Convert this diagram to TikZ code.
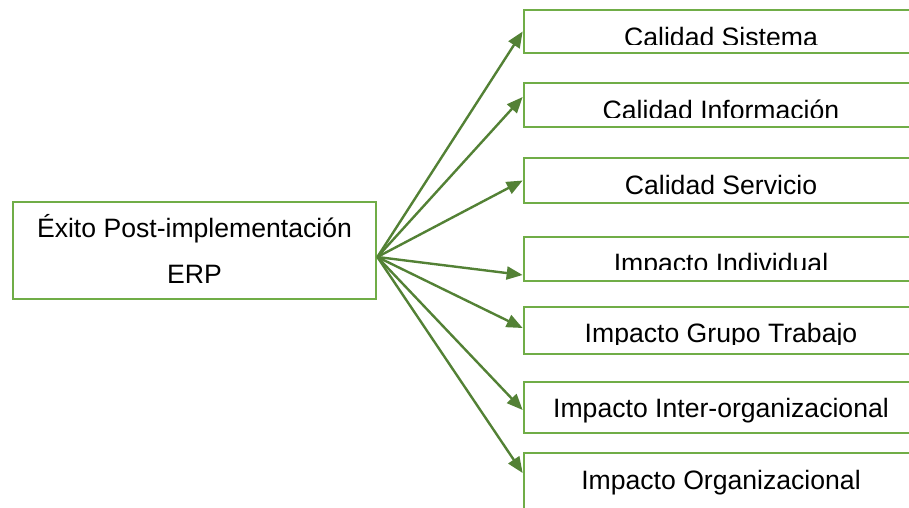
\documentclass[tikz,border=0pt]{standalone}
\usepackage{fontspec}
\setmainfont{Liberation Sans}
\usetikzlibrary{arrows.meta}
\definecolor{boxgreen}{HTML}{70AD47}
\definecolor{arrowgreen}{HTML}{538135}
\tikzset{
  box/.style={draw=boxgreen, line width=2.7pt, inner sep=0pt, fill=white},
  lbl/.style={font=\fontsize{26.6}{32}\selectfont, anchor=base, inner sep=0pt, text=black},
  arr/.style={draw=arrowgreen, line width=2.4pt, -{Triangle[length=16pt,width=13pt]}}
}
\begin{document}
\begin{tikzpicture}[x=1pt,y=-1pt]
  \useasboundingbox (0,0) rectangle (909,507);
  \clip (0,0) rectangle (909,507);

  % source box
  \node[box, minimum width=363pt, minimum height=97pt] (src) at (194.5,250.5) {};
  \node[lbl] (srcA) at (194.5,237) {Éxito Post-implementación};
  \node[lbl] (srcB) at (194.5,283) {ERP};

  % target boxes
  \node[box, minimum width=394pt, minimum height=43pt] (b1) at (721,31.5) {};
  \node[box, minimum width=394pt, minimum height=44pt] (b2) at (721,105) {};
  \node[box, minimum width=394pt, minimum height=45pt] (b3) at (721,180.5) {};
  \node[box, minimum width=394pt, minimum height=44pt] (b4) at (721,259) {};
  \node[box, minimum width=394pt, minimum height=47pt] (b5) at (721,330.5) {};
  \node[box, minimum width=394pt, minimum height=51pt] (b6) at (721,407.5) {};
  \node[box, minimum width=394pt, minimum height=77pt] (b7) at (721,491.5) {};

  % labels (some are cut off by their frame)
  \begin{scope}
    \clip (524,0) rectangle (918,44);
    \node[lbl] (t1) at (721,46) {Calidad Sistema};
  \end{scope}
  \begin{scope}
    \clip (524,83) rectangle (918,117);
    \node[lbl] (t2) at (721,119) {Calidad Información};
  \end{scope}
  \node[lbl] (t3) at (721,194) {Calidad Servicio};
  \begin{scope}
    \clip (524,237) rectangle (918,269);
    \node[lbl] (t4) at (721,272) {Impacto Individual};
  \end{scope}
  \begin{scope}
    \clip (524,307) rectangle (918,344.5);
    \node[lbl] (t5) at (721,342) {Impacto Grupo Trabajo};
  \end{scope}
  \node[lbl] (t6) at (721,417) {Impacto Inter-organizacional};
  \node[lbl] (t7) at (721,489) {Impacto Organizacional};

  % connectors
  \coordinate (o) at ([yshift=-6.5pt]src.east);
  \draw[arr] (o) -- (b1.west);
  \draw[arr] (o) -- ([yshift=8pt]b2.west);
  \draw[arr] (o) -- (b3.west);
  \draw[arr] (o) -- ([yshift=-16pt]b4.west);
  \draw[arr] (o) -- ([yshift=2.5pt]b5.west);
  \draw[arr] (o) -- ([yshift=-2.5pt]b6.west);
  \draw[arr] (o) -- ([yshift=18.5pt]b7.west);
\end{tikzpicture}
\end{document}
